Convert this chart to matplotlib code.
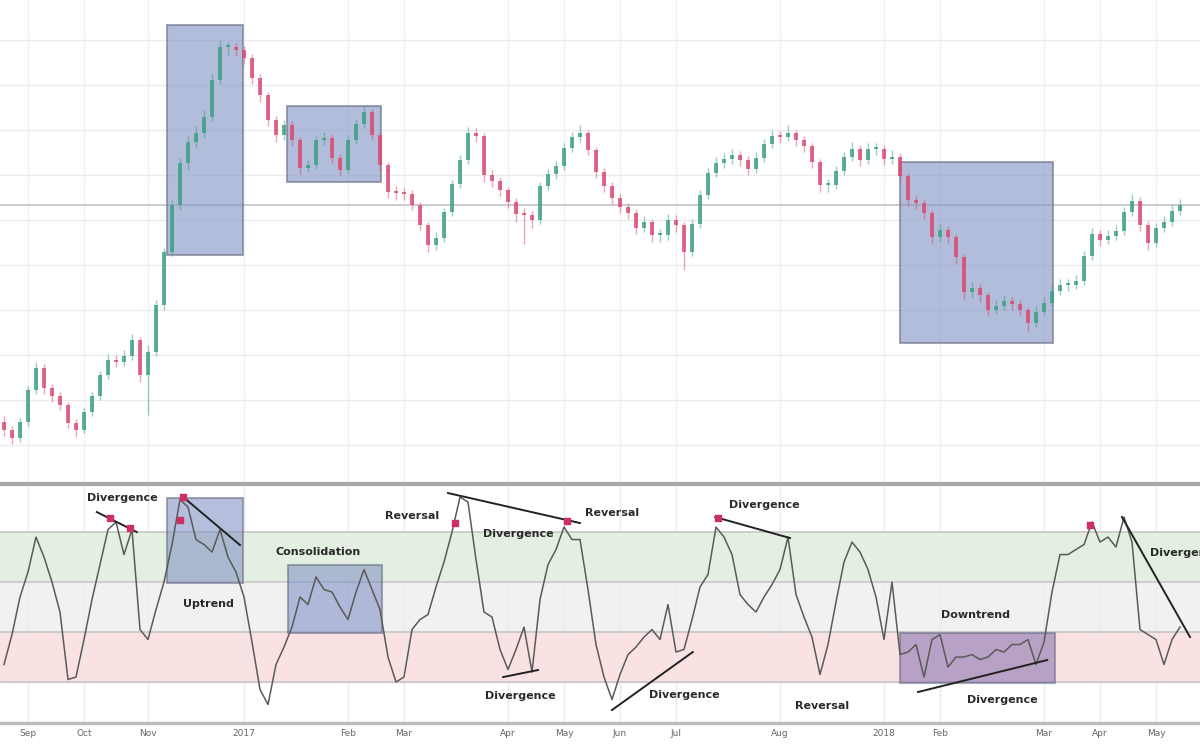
import matplotlib
matplotlib.use("Agg")
import matplotlib.pyplot as plt
import numpy as np

# ---- price data (one candle per bar) ----
first_open = 178
closes = [170, 162, 178, 210, 232, 212, 204, 195, 177, 170,
          188, 204, 225, 240, 238, 244, 260, 225, 248, 295,
          348, 395, 437, 458, 467, 483, 520, 553, 553, 550,
          542, 522, 505, 480, 465, 475, 460, 432, 435, 460,
          462, 442, 430, 460, 476, 488, 465, 435, 408, 407,
          406, 395, 375, 355, 362, 388, 416, 440, 467, 464,
          425, 419, 410, 398, 386, 385, 380, 414, 426, 434,
          452, 463, 467, 450, 428, 414, 402, 393, 387, 372,
          378, 365, 365, 380, 375, 348, 376, 405, 427, 437,
          441, 445, 440, 431, 442, 456, 464, 463, 467, 460,
          454, 438, 415, 415, 429, 443, 451, 440, 451, 451,
          441, 443, 424, 400, 397, 387, 363, 370, 363, 343,
          308, 312, 305, 290, 294, 299, 296, 290, 277, 288,
          297, 309, 315, 315, 319, 344, 366, 360, 364, 369,
          388, 399, 375, 357, 372, 378, 389, 395]
highs = [184, 174, 182, 214, 238, 236, 216, 208, 198, 181,
         192, 208, 229, 246, 245, 250, 266, 263, 255, 300,
         352, 400, 442, 464, 474, 490, 526, 560, 558, 557,
         554, 546, 526, 508, 484, 480, 479, 463, 440, 464,
         468, 466, 446, 464, 481, 494, 491, 468, 438, 414,
         412, 410, 398, 378, 368, 392, 420, 445, 473, 472,
         467, 430, 423, 413, 402, 392, 389, 418, 431, 439,
         457, 468, 475, 470, 453, 432, 418, 406, 397, 391,
         384, 381, 371, 386, 385, 378, 381, 410, 432, 443,
         447, 451, 449, 444, 448, 461, 470, 469, 475, 470,
         464, 457, 441, 421, 434, 448, 458, 455, 457, 457,
         455, 450, 447, 427, 405, 401, 390, 376, 374, 366,
         346, 318, 316, 308, 300, 305, 303, 300, 293, 294,
         303, 315, 321, 321, 325, 349, 372, 370, 370, 375,
         393, 406, 403, 379, 377, 384, 395, 401]
lows = [164, 156, 158, 174, 206, 206, 198, 190, 172, 163,
        167, 184, 200, 221, 233, 234, 240, 218, 185, 244,
        290, 344, 390, 430, 452, 462, 479, 516, 545, 544,
        536, 516, 498, 474, 458, 460, 454, 426, 428, 431,
        455, 437, 424, 427, 456, 472, 460, 429, 402, 400,
        400, 390, 370, 348, 350, 358, 384, 412, 436, 458,
        418, 413, 404, 392, 378, 356, 372, 376, 410, 421,
        430, 448, 458, 445, 422, 408, 396, 387, 381, 366,
        368, 358, 358, 360, 368, 330, 344, 372, 401, 423,
        432, 436, 434, 425, 427, 438, 452, 457, 459, 454,
        448, 432, 408, 408, 411, 425, 439, 434, 436, 445,
        435, 436, 418, 394, 391, 381, 356, 358, 357, 336,
        300, 302, 298, 284, 286, 290, 290, 284, 268, 273,
        284, 293, 305, 309, 311, 315, 340, 354, 356, 360,
        365, 384, 369, 350, 353, 368, 374, 385]

# ---- oscillator data (same bars) ----
osc = [27, 39, 54, 64, 78, 70, 60, 48, 21, 22,
       37, 53, 67, 81, 84, 71, 81, 41, 37, 49,
       60, 75, 93, 90, 77, 75, 72, 81, 70, 64,
       54, 36, 17, 11, 27, 34, 42, 54, 51, 62,
       57, 56, 50, 45, 56, 65, 57, 49, 30, 20,
       22, 41, 45, 47, 58, 68, 80, 94, 92, 69,
       48, 46, 33, 25, 33, 42, 24, 53, 67, 73,
       82, 77, 77, 57, 35, 22, 13, 23, 31, 34,
       38, 41, 37, 51, 32, 33, 45, 58, 63, 82,
       78, 71, 55, 51, 48, 54, 59, 65, 78, 55,
       46, 38, 23, 35, 52, 68, 76, 72, 65, 54,
       37, 60, 31, 32, 35, 22, 37, 39, 26, 30,
       30, 31, 29, 30, 33, 32, 35, 35, 37, 27,
       36, 56, 71, 71, 73, 75, 84, 76, 78, 74,
       86, 76, 41, 39, 37, 27, 37, 42]

tick_bars = [3, 10, 18, 30, 43, 50, 63, 70, 77, 84, 97, 110, 117, 130, 137, 144]
tick_labels = ['Sep', 'Oct', 'Nov', '2017', 'Feb', 'Mar', 'Apr', 'May',
               'Jun', 'Jul', 'Aug', '2018', 'Feb', 'Mar', 'Apr', 'May']

# shaded zones: (x0, x1, y0, y1)
price_boxes = [(20.4, 29.9, 345, 575), (35.4, 47.1, 418, 494), (112.0, 131.1, 257, 438)]
osc_boxes = [(20.4, 29.9, 59.6, 93.6, '#8494c6'),
             (35.5, 47.25, 39.6, 66.8, '#8494c6'),
             (112.0, 131.4, 19.6, 39.6, '#8a78b4')]

# trend lines on the oscillator
osc_lines = [((11.6, 88.0), (16.6, 80.0)), ((22.4, 94.0), (29.5, 74.8)),
             ((55.5, 95.6), (72.0, 83.6)), ((62.4, 22.0), (66.75, 24.8)),
             ((76.0, 8.8), (86.1, 32.0)), ((88.9, 86.0), (98.25, 77.6)),
             ((114.25, 16.0), (130.4, 28.8)), ((139.75, 86.0), (148.25, 38.0))]

labels = [('Divergence', 14.75, 93.6), ('Uptrend', 25.5, 51.2),
          ('Consolidation', 39.25, 72.0), ('Reversal', 51.0, 86.4),
          ('Divergence', 64.25, 79.2), ('Reversal', 76.0, 87.6),
          ('Divergence', 95.1, 90.8), ('Divergence', 64.6, 14.4),
          ('Divergence', 85.1, 14.8), ('Reversal', 102.25, 10.4),
          ('Downtrend', 121.4, 46.8), ('Divergence', 124.75, 12.8)]

marks_x = [13.25, 15.75, 22.4, 22.0, 56.4, 70.4, 89.25, 135.75]
marks_y = [85.6, 81.6, 94.0, 84.8, 83.6, 84.4, 85.6, 82.8]

# ---- figure ----
fig = plt.figure(figsize=(12, 7.47), dpi=100)
ax = fig.add_axes([0, 0.3561, 1, 0.6439])
ax2 = fig.add_axes([0, 0.0321, 1, 0.3199], sharex=ax)
ax.set_axisbelow(True)
ax2.set_axisbelow(True)

c = np.array(closes, dtype=float)
o = np.array([first_open] + closes[:-1], dtype=float)
h = np.array(highs, dtype=float)
l = np.array(lows, dtype=float)
x = np.arange(len(c))
up = c >= o
green, red = '#3a9f80', '#d9486f'
cols = np.where(up, green, red)

for x0, x1, y0, y1 in price_boxes:
    ax.add_patch(plt.Rectangle((x0, y0), x1 - x0, y1 - y0, facecolor='#8494c6',
                               alpha=0.62, edgecolor='#6d7088', lw=1.5, zorder=1))

ax.vlines(x, l, h, colors=cols, lw=1.0, alpha=0.5, zorder=2)
body = np.abs(c - o)
ax.bar(x, np.maximum(body, 2), bottom=np.minimum(o, c), width=0.62,
       color=cols, alpha=0.8, lw=0, zorder=3)

ax.set_ylim(119, 600)
ax.set_yticks(np.arange(155, 600, 45))
ax.grid(True, axis='y', color='#ebebeb', lw=1)
ax.grid(True, axis='x', color='#f2f2f2', lw=1)
ax.axhline(395, color='#c8c8c8', lw=1.3, zorder=0.8)
ax.tick_params(left=False, bottom=False, labelleft=False, labelbottom=False)
for s in ax.spines.values():
    s.set_visible(False)

# oscillator panel
ax2.axhspan(60, 80, color='#e3f0e1', zorder=0)
ax2.axhspan(40, 60, color='#f1f1f1', zorder=0)
ax2.axhspan(20, 40, color='#fbe2e2', zorder=0)
for lvl in (80, 60, 40, 20):
    ax2.axhline(lvl, color='#c6c6c6', lw=1.2, zorder=1)

for x0, x1, y0, y1, fc in osc_boxes:
    ax2.add_patch(plt.Rectangle((x0, y0), x1 - x0, y1 - y0, facecolor=fc,
                                alpha=0.6, edgecolor='#6d7088', lw=1.5, zorder=2))

ax2.plot(x, osc, color='#5a5a5a', lw=1.1, zorder=3)
for (xa, ya), (xb, yb) in osc_lines:
    ax2.plot([xa, xb], [ya, yb], color='#222222', lw=1.4, zorder=4)
ax2.scatter(marks_x, marks_y, s=14, color='#cc2f62', marker='s', zorder=5)

for txt, tx, ty in labels:
    ax2.text(tx, ty, txt, ha='center', va='center', fontsize=8,
             fontweight='bold', color='#2a2a2a', zorder=6)
# cut off by the right edge, as in the source image
ax2.text(143.3, 71.6, 'Divergence', ha='left', va='center', fontsize=8,
         fontweight='bold', color='#2a2a2a', zorder=6)

ax2.set_ylim(3.6, 99.2)
ax2.set_xlim(-0.5, 149.5)
ax2.set_yticks([])
ax2.set_xticks(tick_bars)
ax2.set_xticklabels(tick_labels, fontsize=6.5, color='#666666')
ax2.tick_params(axis='x', length=0, pad=4)
ax2.grid(True, axis='x', color='#eaeaea', lw=1)
ax.set_xticks(tick_bars)
for side in ('left', 'right'):
    ax2.spines[side].set_visible(False)
ax2.spines['top'].set_color('#a8a8a8')
ax2.spines['top'].set_linewidth(3)
ax2.spines['bottom'].set_color('#bcbcbc')
ax2.spines['bottom'].set_linewidth(2.5)

fig.savefig('out.png', dpi=100)
